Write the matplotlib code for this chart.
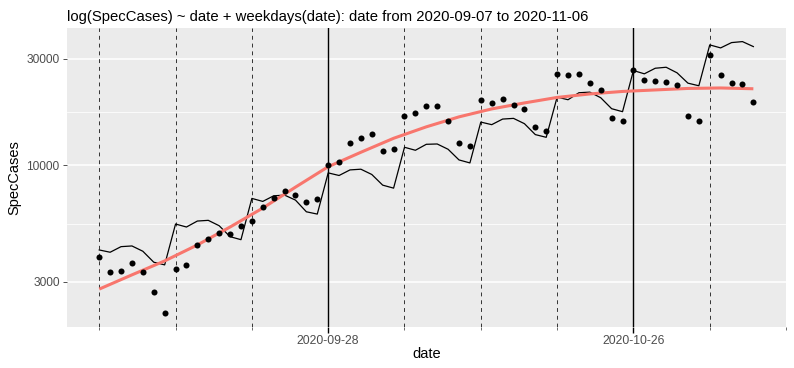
import matplotlib
matplotlib.use('Agg')
import matplotlib.pyplot as plt
import matplotlib.dates as mdates
import numpy as np
import pandas as pd

plt.rcParams['font.family'] = 'Liberation Sans'

# daily observations 2020-09-07 .. 2020-11-06
dates = pd.date_range('2020-09-07', '2020-11-06', freq='D')
spec_cases = [3896, 3339, 3374, 3641, 3319, 2702, 2169,
              3433, 3588, 4408, 4673, 4985, 4920, 5358,
              5641, 6514, 7124, 7679, 7321, 6815, 7028,
              10051, 10345, 12625, 13242, 13753, 11631, 11874,
              16601, 17196, 18395, 18340, 15766, 12576, 12155,
              19508, 18972, 19770, 18532, 17783, 14825, 14287,
              25668, 25404, 25487, 23310, 21617, 16329, 15766,
              26630, 24130, 23714, 23470, 22831, 16553, 15831,
              31200, 25404, 23310, 23166, 19104]

# fitted: date + weekdays(date)
fitted = [4173, 4076, 4318, 4349, 4118, 3678, 3578,
          5453, 5287, 5623, 5664, 5358, 4786, 4640,
          7101, 6885, 7294, 7347, 6978, 6186, 6041,
          9239, 8995, 9528, 9597, 9089, 8142, 7895,
          12032, 11667, 12408, 12449, 11787, 10560, 10240,
          15603, 15193, 16095, 16210, 15350, 13713, 13335,
          20180, 19647, 21116, 21246, 20056, 17912, 17367,
          26551, 25668, 27186, 27463, 25932, 23310, 22691,
          34583, 33531, 35417, 35783, 33988]

# smooth curve, read every 3 days
smooth_dates = pd.date_range('2020-09-07', '2020-11-06', freq='3D')
smooth_vals = [2787, 3228, 3727, 4394, 5287, 6427, 7977, 9847, 11429, 13200,
               14855, 16465, 17871, 19010, 20120, 20856, 21400, 21735, 22074,
               22182, 22000]

week_lines = pd.to_datetime(['2020-09-07', '2020-09-14', '2020-09-21', '2020-10-05',
                             '2020-10-12', '2020-10-19', '2020-11-02', '2020-11-09'])
month_lines = pd.to_datetime(['2020-09-28', '2020-10-26'])

y_breaks = [3000, 10000, 30000]
y_minor = [5477, 17320]

fig = plt.figure(figsize=(7.94, 3.68), dpi=100)
ax = fig.add_axes([0.0838, 0.1114, 0.9062, 0.8125])
ax.set_facecolor('#EBEBEB')
for s in ax.spines.values():
    s.set_visible(False)

ax.set_yscale('log')
for v in y_breaks:
    ax.axhline(v, color='white', lw=1.1, zorder=0)
for v in y_minor:
    ax.axhline(v, color='white', lw=0.55, zorder=0)

for d in week_lines:
    ax.axvline(d, color='#333333', lw=0.7, ls=(0, (4, 4)), zorder=1)
for d in month_lines:
    ax.axvline(d, color='black', lw=1.0, zorder=1)

ax.plot(dates, fitted, color='black', lw=0.9, zorder=2)
ax.plot(smooth_dates, smooth_vals, color='#F8766D', lw=2.2, zorder=3,
        solid_capstyle='butt')
ax.scatter(dates, spec_cases, s=19, color='black', zorder=4, linewidths=0)

# limits like ggplot: 5% expansion
pad = pd.Timedelta(days=3)
ax.set_xlim(dates[0] - pad, dates[-1] + pad)
allv = np.log10(np.array(spec_cases + fitted, dtype=float))
lo, hi = allv.min(), allv.max()
e = (hi - lo) * 0.05
ax.set_ylim(10 ** (lo - e), 10 ** (hi + e))

ax.set_yticks(y_breaks)
ax.set_yticklabels([str(v) for v in y_breaks])
ax.yaxis.set_minor_locator(matplotlib.ticker.NullLocator())
ax.tick_params(axis='y', length=3, width=0.6, color='#333333',
               labelsize=8.6, labelcolor='#4D4D4D', pad=2)

ax.set_xticks(month_lines)
ax.xaxis.set_major_formatter(mdates.DateFormatter('%Y-%m-%d'))
ax.set_xticks(week_lines, minor=True)
ax.tick_params(axis='x', which='major', length=4, width=1.0, color='black',
               labelsize=8.8, labelcolor='#4D4D4D', pad=2)
ax.tick_params(axis='x', which='minor', length=2.5, width=0.6, color='#555555')

ax.set_xlabel('date', fontsize=10.5, labelpad=0)
ax.set_ylabel('SpecCases', fontsize=10.5, labelpad=4)
ax.set_title('log(SpecCases) ~ date + weekdays(date): date from 2020-09-07 to 2020-11-06',
             fontsize=10.7, loc='left', pad=5)

fig.savefig('out.png', dpi=100)
